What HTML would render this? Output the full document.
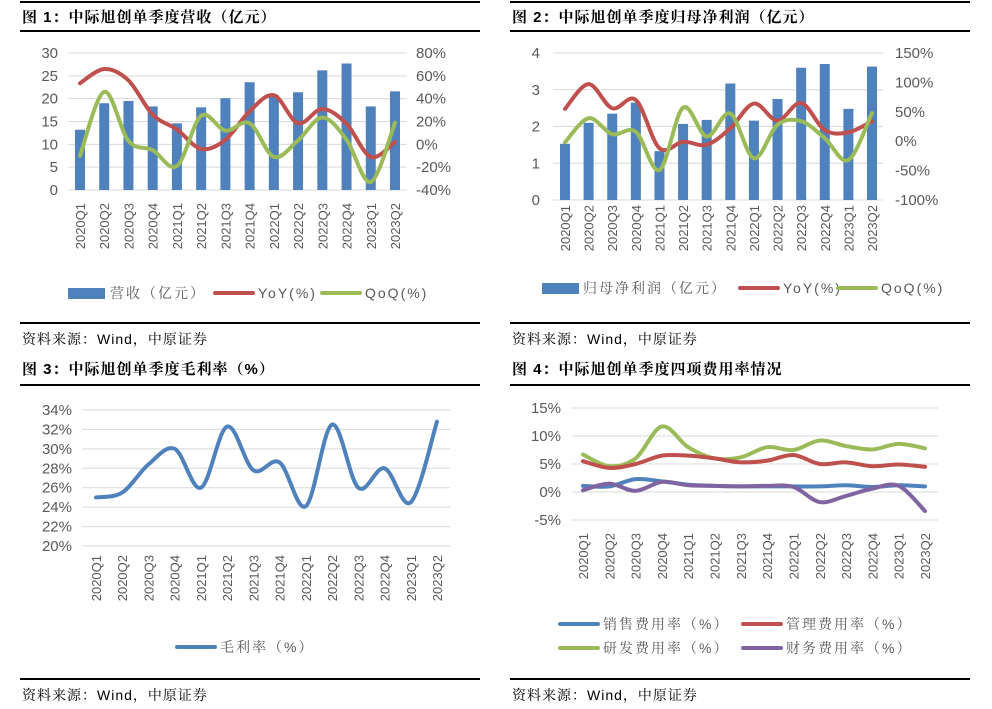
<!DOCTYPE html>
<html><head><meta charset="utf-8">
<style>
body{margin:0;background:#fff;}
svg{display:block;font-family:"Liberation Sans","Noto Sans CJK SC",sans-serif;}
.t{font-family:"Liberation Sans","Noto Serif CJK SC",serif;font-weight:bold;font-size:15px;fill:#000;letter-spacing:1px;}
.src{font-family:"Liberation Sans","Noto Serif CJK SC",serif;font-size:14px;fill:#000;letter-spacing:1px;}
.ax{font-size:15px;fill:#595959;}
.xl{font-size:13px;fill:#595959;}
.lg{font-size:14px;fill:#595959;font-family:"Liberation Sans","Noto Serif CJK SC",serif;letter-spacing:2px;}
</style></head><body>
<svg id="c" width="992" height="709" viewBox="0 0 992 709">
<g stroke="#000" stroke-width="2">
<line x1="20" y1="2" x2="480" y2="2"/><line x1="510" y1="2" x2="970" y2="2"/>
<line x1="20" y1="31" x2="480" y2="31"/><line x1="510" y1="31" x2="970" y2="31"/>
<line x1="20" y1="323" x2="480" y2="323"/><line x1="510" y1="323" x2="970" y2="323"/>
<line x1="20" y1="385" x2="480" y2="385"/><line x1="510" y1="385" x2="970" y2="385"/>
<line x1="20" y1="679" x2="480" y2="679"/><line x1="510" y1="679" x2="970" y2="679"/>
</g>
<text class="t" x="22" y="22">图 1：中际旭创单季度营收（亿元）</text>
<text class="t" x="512" y="22">图 2：中际旭创单季度归母净利润（亿元）</text>
<text class="t" x="22" y="374">图 3：中际旭创单季度毛利率（%）</text>
<text class="t" x="512" y="374">图 4：中际旭创单季度四项费用率情况</text>
<text class="src" x="22" y="344">资料来源：Wind，中原证券</text>
<text class="src" x="512" y="344">资料来源：Wind，中原证券</text>
<text class="src" x="22" y="700">资料来源：Wind，中原证券</text>
<text class="src" x="512" y="700">资料来源：Wind，中原证券</text>
</svg>
<script>
const categories=["2020Q1","2020Q2","2020Q3","2020Q4","2021Q1","2021Q2","2021Q3","2021Q4","2022Q1","2022Q2","2022Q3","2022Q4","2023Q1","2023Q2"];
const revenue=[13.2,19.0,19.5,18.3,14.6,18.1,20.1,23.6,20.8,21.4,26.2,27.7,18.3,21.6];
const revYoY=[53.5,66,56,26,13,-4,4,29,43,18.5,31,18,-11,2];
const revQoQ=[-10,46,3,-5,-19,25,12,18.5,-11,3.5,23.5,4,-33,19];
const profit=[1.53,2.1,2.35,2.65,1.33,2.07,2.18,3.17,2.16,2.75,3.6,3.7,2.48,3.63];
const profYoY=[55,97,56,70,-12,-1,-6,22,64,35,65,19,15,34];
const profQoQ=[-2,39,12,16,-49,57,8,47,-29,28,34,5,-32,48];
const grossMargin=[25.0,25.5,28.4,30.0,26.0,32.3,27.8,28.6,24.1,32.5,26.0,28.0,24.5,32.8];
const sellRate=[1.1,1.0,2.3,1.9,1.3,1.1,1.0,1.0,1.0,1.0,1.2,0.9,1.2,1.0];
const mgmtRate=[5.5,4.3,5.0,6.5,6.5,6.0,5.3,5.6,6.6,5.0,5.3,4.6,4.9,4.5];
const rdRate=[6.7,4.6,6.0,11.7,8.0,6.0,6.2,8.0,7.5,9.2,8.2,7.6,8.6,7.8];
const finRate=[0.3,1.5,0.2,1.8,1.2,1.1,1.0,1.1,0.9,-1.8,-0.7,0.6,1.1,-3.4];
const t1L=[0,5,10,15,20,25,30], t1R=[-40,-20,0,20,40,60,80];
const t2L=[0,1,2,3,4], t2R=[-100,-50,0,50,100,150];
const t3=[20,22,24,26,28,30,32,34];
const t4=[-5,0,5,10,15];

const svg=document.getElementById('c');
const NS='http://www.w3.org/2000/svg';
function mk(tag,attrs,parent){const e=document.createElementNS(NS,tag);for(const k in attrs)e.setAttribute(k,attrs[k]);(parent||svg).appendChild(e);return e;}
function lin(d0,d1,p0,p1){return v=>p0+(v-d0)/(d1-d0)*(p1-p0);}
function smooth(pts){let d='M'+pts[0][0]+','+pts[0][1];for(let i=0;i<pts.length-1;i++){const p0=pts[i-1]||pts[i],p1=pts[i],p2=pts[i+1],p3=pts[i+2]||p2;const t=6;d+=' C'+(p1[0]+(p2[0]-p0[0])/t)+','+(p1[1]+(p2[1]-p0[1])/t)+' '+(p2[0]-(p3[0]-p1[0])/t)+','+(p2[1]-(p3[1]-p1[1])/t)+' '+p2[0]+','+p2[1];}return d;}
function grid(g,ticks,y,x0,x1){ticks.forEach(v=>{mk('line',{x1:x0,x2:x1,y1:y(v),y2:y(v),stroke:'#d9d9d9','stroke-width':1},g);});}
function yLabels(g,ticks,y,x,anchor,fmt){ticks.forEach(v=>{const t=mk('text',{x:x,y:y(v)+5,'text-anchor':anchor,class:'ax'},g);t.textContent=fmt(v);});}
function xLabels(g,xf,top){categories.forEach((c,i)=>{const t=mk('text',{transform:'translate('+(xf(i)+5)+','+top+') rotate(-90)','text-anchor':'end',class:'xl'},g);t.textContent=c;});}
function series(g,vals,xf,y,color,name){const p=mk('path',{d:smooth(vals.map((v,i)=>[xf(i),y(v)])),fill:'none',stroke:color,'stroke-width':4,'stroke-linecap':'round'},g);

}
function legLine(g,x,y,color,label,name){const gg=mk('g',{},g);


mk('line',{x1:x,x2:x+38,y1:y,y2:y,stroke:color,'stroke-width':4,'stroke-linecap':'round'},gg);const t=mk('text',{x:x+43,y:y+5,class:'lg'},gg);t.textContent=label;}
const BLUE='#4f81bd',RED='#c0504d',GREEN='#9bbb59',PURPLE='#8064a2';

// Chart 1
(function(){const g=mk('g',{});


const y=lin(0,30,190,53),yr=lin(-40,80,190,53),x=i=>80+i*(395-80)/13;
grid(g,t1L,y,68,407);
yLabels(g,t1L,y,58,'end',v=>v);yLabels(g,t1R,yr,416,'start',v=>v+'%');
revenue.forEach((v,i)=>{const r=mk('rect',{x:x(i)-5,y:y(v),width:10,height:y(0)-y(v),fill:BLUE},g);

});
series(g,revYoY,x,yr,RED,'revenue-yoy-line');series(g,revQoQ,x,yr,GREEN,'revenue-qoq-line');
xLabels(g,x,203);
const lg=mk('g',{},g);


mk('rect',{x:68,y:288,width:37,height:11,fill:BLUE},lg);const t=mk('text',{x:110,y:298,class:'lg'},lg);t.textContent='营收（亿元）';
legLine(lg,215,293,RED,'YoY(%)','legend-yoy');legLine(lg,322,293,GREEN,'QoQ(%)','legend-qoq');
})();
// Chart 2
(function(){const g=mk('g',{});


const y=lin(0,4,200,53),yr=lin(-100,150,200,53),x=i=>565+i*(872-565)/13;
grid(g,t2L,y,553,883);
yLabels(g,t2L,y,540,'end',v=>v);yLabels(g,t2R,yr,895,'start',v=>v+'%');
profit.forEach((v,i)=>{const r=mk('rect',{x:x(i)-5,y:y(v),width:10,height:y(0)-y(v),fill:BLUE},g);

});
series(g,profYoY,x,yr,RED,'profit-yoy-line');series(g,profQoQ,x,yr,GREEN,'profit-qoq-line');
xLabels(g,x,205);
const lg=mk('g',{},g);


mk('rect',{x:542,y:283,width:37,height:11,fill:BLUE},lg);const t=mk('text',{x:583,y:293,class:'lg'},lg);t.textContent='归母净利润（亿元）';
legLine(lg,740,288,RED,'YoY(%)','legend-yoy');legLine(lg,838,288,GREEN,'QoQ(%)','legend-qoq');
})();
// Chart 3
(function(){const g=mk('g',{});


const y=lin(20,34,546,410),x=i=>96+i*(437-96)/13;
grid(g,t3,y,82,450);
yLabels(g,t3,y,72,'end',v=>v+'%');
series(g,grossMargin,x,y,BLUE,'gross-margin-line');
xLabels(g,x,555);
legLine(g,177,647,BLUE,'毛利率（%）','legend-gross-margin');
})();
// Chart 4
(function(){const g=mk('g',{});


const y=lin(-5,15,520,408),x=i=>583+i*(925-583)/13;
grid(g,t4,y,572,938);
yLabels(g,t4,y,561,'end',v=>v+'%');
series(g,rdRate,x,y,GREEN,'rd-rate-line');series(g,mgmtRate,x,y,RED,'mgmt-rate-line');
series(g,sellRate,x,y,BLUE,'sell-rate-line');series(g,finRate,x,y,PURPLE,'fin-rate-line');
xLabels(g,x,533);
legLine(g,560,624,BLUE,'销售费用率（%）','legend-sell');legLine(g,743,624,RED,'管理费用率（%）','legend-mgmt');
legLine(g,560,648,GREEN,'研发费用率（%）','legend-rd');legLine(g,743,648,PURPLE,'财务费用率（%）','legend-fin');
})();
</script>
</body></html>
